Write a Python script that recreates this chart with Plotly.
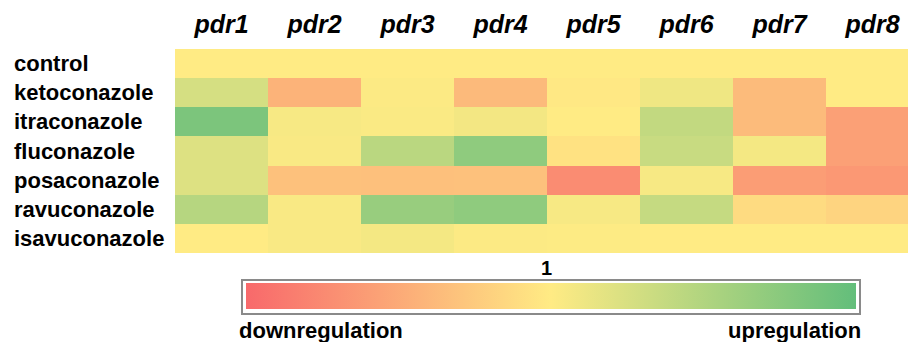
import plotly.graph_objects as go

genes = ["pdr1", "pdr2", "pdr3", "pdr4", "pdr5", "pdr6", "pdr7", "pdr8"]
treatments = ["control", "ketoconazole", "itraconazole", "fluconazole",
              "posaconazole", "ravuconazole", "isavuconazole"]

# relative expression (fold change vs control, 1 = unchanged)
control = [1.00, 1.00, 1.00, 1.00, 1.00, 1.00, 1.00, 1.00]
ketoconazole = [1.27, 0.57, 1.02, 0.62, 0.98, 1.10, 0.63, 1.00]
itraconazole = [1.84, 1.05, 1.03, 1.08, 1.00, 1.39, 0.63, 0.42]
fluconazole = [1.22, 1.04, 1.44, 1.72, 0.93, 1.35, 1.07, 0.42]
posaconazole = [1.22, 0.68, 0.67, 0.68, 0.27, 1.05, 0.40, 0.36]
ravuconazole = [1.47, 1.04, 1.66, 1.72, 1.05, 1.37, 0.88, 0.82]
isavuconazole = [1.00, 1.04, 1.07, 1.02, 1.01, 1.00, 1.00, 1.00]

z = [control, ketoconazole, itraconazole, fluconazole,
     posaconazole, ravuconazole, isavuconazole]

colorscale = [[0.0, "#F8696B"], [0.5, "#FFEB84"], [1.0, "#63BE7B"]]

W, H = 908, 342
L, R, T, B = 175, 0, 49, 89
pw, ph = W - L - R, H - T - B


def px_x(x):
    return (x - L) / pw


def px_y(y):
    return (H - B - y) / ph


FONT = "Liberation Sans, Arial"

fig = go.Figure()
fig.add_trace(go.Heatmap(
    z=z, x=genes, y=treatments,
    colorscale=colorscale, zmin=0, zmid=1, zmax=2,
    xgap=0, ygap=0,
    colorbar=dict(
        orientation="h",
        thickness=26,
        lenmode="pixels", len=616,
        x=px_x(551), xanchor="center",
        y=px_y(297), yanchor="middle",
        outlinewidth=0,
        borderwidth=2, bordercolor="#8a8a8a",
        xpad=3, ypad=3,
        showticklabels=False, ticks="",
    ),
))

# row labels (left-aligned)
for t in treatments:
    fig.add_annotation(
        text="<b>%s</b>" % t, x=px_x(12), xref="paper", xanchor="left",
        y=t, yref="y", yanchor="middle", showarrow=False,
        font=dict(family=FONT, size=22, color="black"),
    )

fig.add_annotation(text="<b>1</b>", x=px_x(546), xref="paper", xanchor="center",
                   y=px_y(268), yref="paper", yanchor="middle", showarrow=False,
                   font=dict(family=FONT, size=20, color="black"))
fig.add_annotation(text="<b>downregulation</b>", x=px_x(237), xref="paper", xanchor="left",
                   y=px_y(330), yref="paper", yanchor="middle", showarrow=False,
                   font=dict(family=FONT, size=22, color="black"))
fig.add_annotation(text="<b>upregulation</b>", x=px_x(863), xref="paper", xanchor="right",
                   y=px_y(330), yref="paper", yanchor="middle", showarrow=False,
                   font=dict(family=FONT, size=22, color="black"))

fig.update_layout(
    width=W, height=H,
    margin=dict(l=L, r=R, t=T, b=B, pad=0),
    paper_bgcolor="white", plot_bgcolor="white",
    xaxis=dict(
        side="top", range=[-0.5, 7.38], showgrid=False, zeroline=False,
        ticks="", tickvals=genes, ticktext=["<b><i>%s</i></b>" % g for g in genes],
        tickfont=dict(family=FONT, size=25, color="black"),
        ticklabelstandoff=10,
        fixedrange=True,
    ),
    yaxis=dict(
        autorange="reversed", showticklabels=False, showgrid=False,
        zeroline=False, ticks="", fixedrange=True,
    ),
    showlegend=False,
)

fig.write_html(
    "out.html",
    config={"displayModeBar": False},
    post_script="document.body.style.margin='0';document.body.style.overflow='hidden';",
)
